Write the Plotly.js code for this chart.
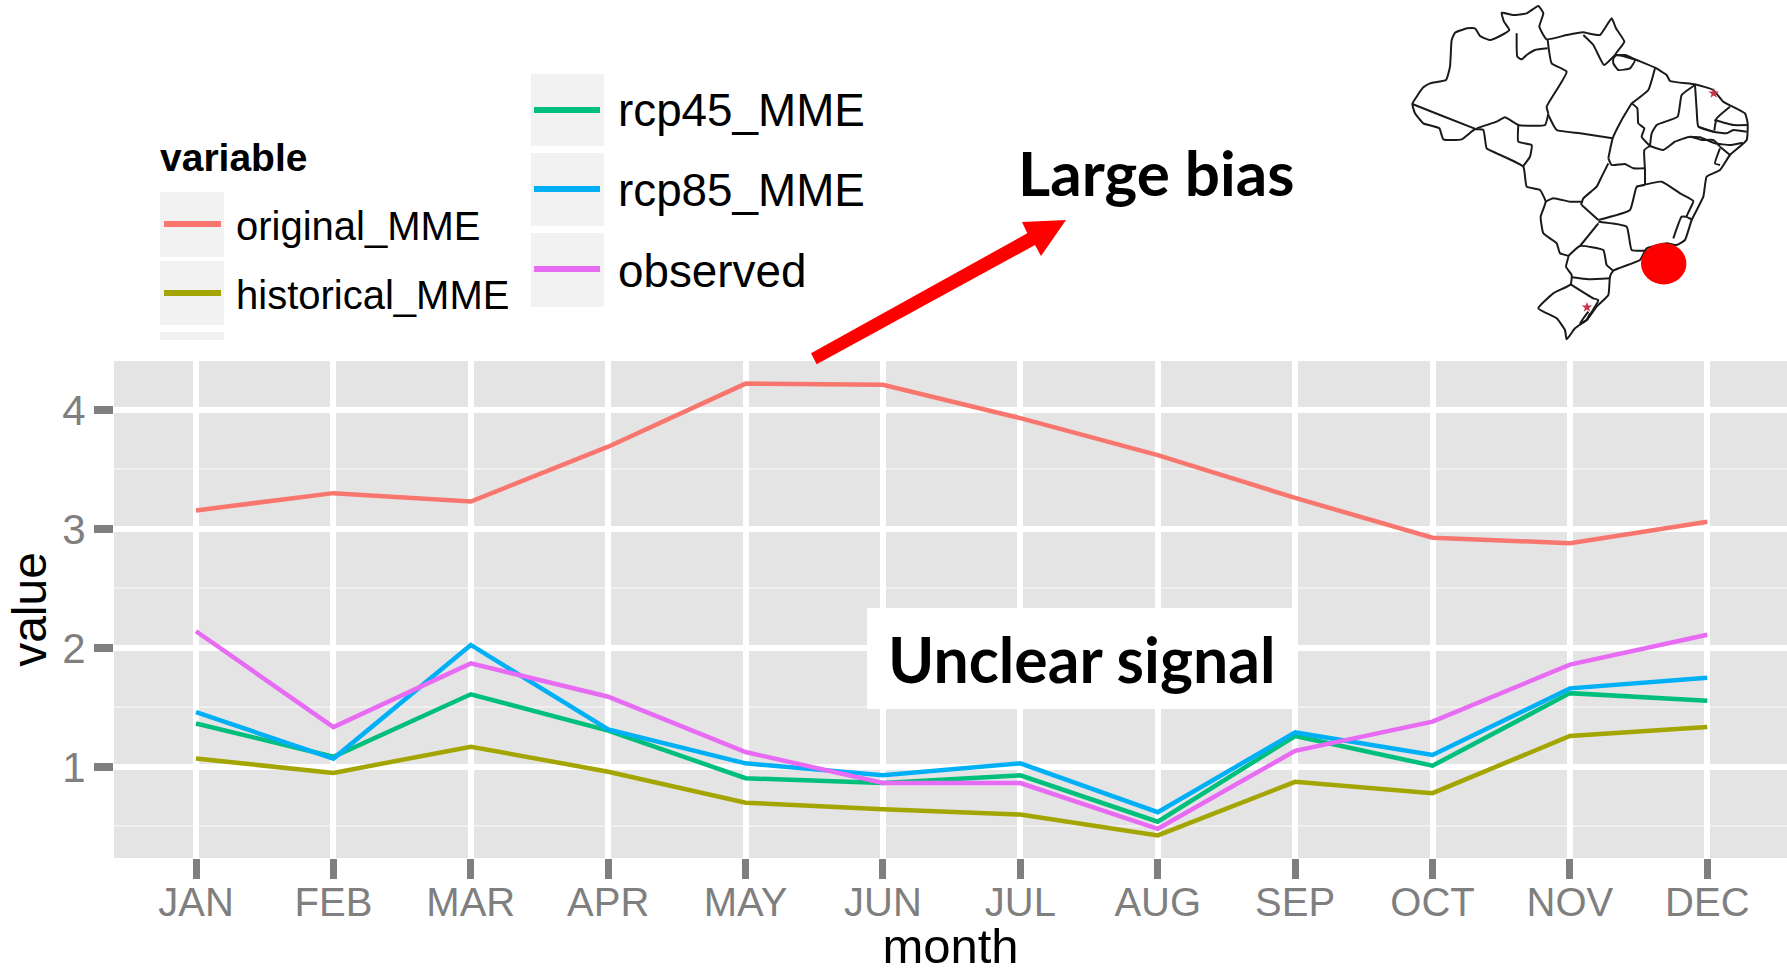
<!DOCTYPE html>
<html><head><meta charset="utf-8">
<script src="https://cdn.plot.ly/plotly-3.0.1.min.js"></script>
<style>html,body{margin:0;padding:0;background:#fff;overflow:hidden}#c{width:1787px;height:973px}</style>
</head><body><div id="c"></div>
<script>
const months=['JAN','FEB','MAR','APR','MAY','JUN','JUL','AUG','SEP','OCT','NOV','DEC'];
const seriesNames=['original_MME','historical_MME','rcp45_MME','rcp85_MME','observed'];
const seriesColors=['#F8766D','#A3A500','#00BF7D','#00B0F6','#E76BF3'];
const originalMME=[3.155,3.30,3.23,3.69,4.22,4.21,3.93,3.62,3.26,2.925,2.88,3.06];
const historicalMME=[1.07,0.95,1.17,0.96,0.70,0.645,0.60,0.425,0.875,0.78,1.26,1.335];
const rcp45MME=[1.365,1.085,1.61,1.305,0.905,0.865,0.93,0.54,1.26,1.01,1.62,1.555];
const rcp85MME=[1.46,1.07,2.025,1.315,1.03,0.93,1.03,0.62,1.29,1.10,1.66,1.75];
const observed=[2.14,1.335,1.87,1.59,1.125,0.865,0.865,0.48,1.135,1.38,1.86,2.11];
const seriesValues=[originalMME,historicalMME,rcp45MME,rcp85MME,observed];

// Inset map of Brazil, traced as page-pixel polylines (decoration, not data)
const mapOrigin=[1380,0], mapScale=1/3;
const mapLines=[
[[97,312],[110,290],[130,262],[150,250],[198,240],[210,200],[215,120],[225,98],[262,85],[285,85],[300,108],[330,120],[360,108],[388,90],[372,65],[365,38],[400,45],[440,40],[475,18],[490,40],[478,80],[500,118],[560,105],[608,97],[660,105],[695,55],[708,85],[733,125],[705,165],[735,165],[770,180],[825,203],[860,225],[870,243],[945,253],[1000,270],[1030,305],[1095,340],[1103,370],[1100,420],[1050,465],[1020,510],[980,530],[970,590],[935,660],[915,720],[890,735],[860,730],[800,745],[780,780],[700,812],[690,830],[685,885],[650,920],[620,960],[585,985],[560,1018],[555,990],[530,955],[475,925],[520,880],[572,853],[575,825],[558,800],[565,768],[540,760],[530,730],[490,700],[482,650],[497,605],[480,570],[440,560],[430,500],[350,460],[320,445],[310,390],[285,388],[245,418],[190,418],[178,385],[130,370],[105,340],[97,312]],
[[97,312],[180,345],[290,388]],
[[290,385],[350,365],[375,352],[415,375],[495,375],[505,340]],
[[415,375],[415,425],[455,435],[450,470],[430,498]],
[[505,340],[500,320],[560,215],[515,190],[503,120]],
[[410,100],[412,170],[425,178],[440,165],[465,150],[503,145]],
[[610,105],[640,135],[672,195],[705,165]],
[[700,175],[710,165],[765,180],[750,205],[715,210],[700,190],[700,175]],
[[505,345],[530,390],[600,400],[698,415]],
[[825,205],[805,270],[755,310]],
[[755,310],[725,360],[698,415],[685,475]],
[[755,310],[772,325],[775,370],[793,385],[785,410],[810,438]],
[[945,255],[905,285],[893,350],[830,375],[815,400],[810,438]],
[[810,438],[850,450],[885,425],[930,410],[965,420],[1000,420],[1020,440]],
[[945,255],[950,330],[955,380],[1000,395]],
[[1050,320],[1010,355],[1003,392]],
[[1003,360],[1060,375],[1103,375]],
[[955,380],[1000,395],[1040,400],[1060,390],[1100,395]],
[[930,410],[960,412],[1005,430],[1050,435],[1088,428]],
[[1020,440],[1050,465]],
[[1020,445],[1005,490],[1020,495]],
[[810,438],[793,450],[795,510],[795,555]],
[[685,475],[695,495],[735,492],[760,505],[795,505]],
[[685,490],[665,530],[650,560],[610,595],[603,615]],
[[497,605],[520,595],[570,605],[603,605]],
[[795,555],[770,560],[750,630],[655,660]],
[[605,615],[655,660]],
[[770,560],[845,545],[900,580],[940,603],[920,650],[935,658]],
[[920,650],[905,650],[880,715]],
[[655,665],[740,680],[755,750],[800,752]],
[[655,670],[600,738]],
[[565,768],[600,738],[670,750],[680,795],[700,812]],
[[575,832],[625,838],[690,835]],
[[572,853],[640,895],[655,900],[620,960]],
[[625,935],[600,970],[620,960],[630,940]]
];
const mapStars=[[1001,280],[621,922]];

const W=1787,H=973;
const panel={l:114,r:1787,t:361,b:858};
const data=seriesNames.map((n,i)=>({type:'scatter',mode:'lines',name:n,x:months,y:seriesValues[i],
  xaxis:'x',yaxis:'y',line:{color:seriesColors[i],width:4.5,shape:'linear'},showlegend:false,hoverinfo:'x+y+name'}));
const mx=p=>mapOrigin[0]+p[0]*mapScale, my=p=>mapOrigin[1]+p[1]*mapScale;
mapLines.forEach(l=>data.push({type:'scatter',mode:'lines',x:l.map(mx),y:l.map(my),xaxis:'x2',yaxis:'y2',
  line:{color:'#1a1a1a',width:2,shape:'spline',smoothing:0.4},showlegend:false,hoverinfo:'skip'}));
data.push({type:'scatter',mode:'markers',x:mapStars.map(mx),y:mapStars.map(my),xaxis:'x2',yaxis:'y2',
  marker:{symbol:'star',size:8,color:'#c9304a'},showlegend:false,hoverinfo:'skip'});

const shapes=[], annotations=[];
const P={xref:'x2',yref:'y2'};
function rect(x0,y0,x1,y1,c){shapes.push({...P,type:'rect',x0,y0,x1,y1,fillcolor:c,line:{width:0},layer:'above'});}
function text(t,x,y,size,opt){annotations.push({...P,x,y,text:t,showarrow:false,xanchor:'left',yanchor:'middle',
  font:{family:'"Liberation Sans",Arial,sans-serif',size,color:'#000'},...opt});}
// panel background sits under every subplot
shapes.push({xref:'paper',yref:'paper',type:'rect',layer:'below',x0:panel.l/W,x1:1,y0:(H-panel.b)/H,y1:(H-panel.t)/H,fillcolor:'#E4E4E4',line:{width:0}});
// legend keys
const keyBg='#f2f2f2';
const legendKeys=[[160,192,224,257],[160,261,224,325],[531,74,604,146],[531,153,604,226],[531,233,604,307]];
const legendLines=[[164,221,224],[164,221,293],[534,600,110],[534,600,189],[534,600,269]];
const legendText=[[234,226,40],[234,295,40],[616,110,45.8],[616,190,45.8],[616,271,45.8]];
legendKeys.forEach(k=>rect(k[0],k[1],k[2],k[3],keyBg));
rect(160,332,224,340,keyBg);
legendLines.forEach((l,i)=>shapes.push({...P,type:'line',x0:l[0],x1:l[1],y0:l[2],y1:l[2],line:{color:seriesColors[i],width:6},layer:'above'}));
seriesNames.forEach((n,i)=>text(n,legendText[i][0],legendText[i][1],legendText[i][2]));
text('<b>variable</b>',158,157,39);
// white box
rect(867,608,1292,709,'#ffffff');
// callouts
annotations.push({...P,x:1156,y:172,text:'<b>Large bias</b>',showarrow:false,xanchor:'center',yanchor:'middle',font:{family:'Lato,"Open Sans",sans-serif',size:62,color:'#000'}});
annotations.push({...P,x:1081,y:658,text:'<b>Unclear signal</b>',showarrow:false,xanchor:'center',yanchor:'middle',font:{family:'Lato,"Open Sans",sans-serif',size:62.5,color:'#000'}});
// arrow outline
shapes.push({...P,type:'path',layer:'above',fillcolor:'#ff0000',line:{width:0},
  path:'M811,353.3 L1027.3,233.3 L1022,222 L1066,220 L1041,256 L1035,245 L816.7,364.3 Z'});
// red location dot
shapes.push({...P,type:'circle',x0:1641,x1:1686.4,y0:243,y1:284.4,fillcolor:'#ff0000',line:{width:0},layer:'above'});

const layout={width:W,height:H,margin:{l:0,r:0,t:0,b:0},paper_bgcolor:'#fff',plot_bgcolor:'rgba(0,0,0,0)',showlegend:false,
 xaxis:{domain:[panel.l/W,1],anchor:'y',type:'category',categoryorder:'array',categoryarray:months,tickmode:'array',tickvals:months,ticktext:months,
   range:[-0.597,11.58],showgrid:true,gridcolor:'#fff',gridwidth:5.5,zeroline:false,showline:false,
   ticks:'outside',ticklen:20,tickwidth:7,tickcolor:'#7f7f7f',ticklabelstandoff:-11,
   tickfont:{family:'"Liberation Sans",Arial,sans-serif',size:40,color:'#7f7f7f'},
   title:{text:'month',font:{family:'"Liberation Sans",Arial,sans-serif',size:49,color:'#000'},standoff:9}},
 yaxis:{domain:[(H-panel.b)/H,(H-panel.t)/H],anchor:'x',range:[0.235,4.41],tickmode:'array',tickvals:[1,2,3,4],ticktext:['1','2','3','4'],
   showgrid:true,gridcolor:'#fff',gridwidth:6,zeroline:false,showline:false,
   minor:{tickvals:[0.5,1.5,2.5,3.5],showgrid:true,gridcolor:'#F0F0F0',gridwidth:2,ticks:''},
   ticks:'outside',ticklen:19,tickwidth:7.5,tickcolor:'#7f7f7f',
   tickfont:{family:'"Liberation Sans",Arial,sans-serif',size:42,color:'#7f7f7f'},
   title:{text:'value',font:{family:'"Liberation Sans",Arial,sans-serif',size:48,color:'#000'},standoff:0}},
 xaxis2:{domain:[0,1],anchor:'y2',range:[0,W],visible:false,fixedrange:true},
 yaxis2:{domain:[0,1],anchor:'x2',range:[H,0],visible:false,fixedrange:true},
 shapes,annotations};
Plotly.newPlot('c',data,layout,{displayModeBar:false,responsive:false});
</script></body></html>
